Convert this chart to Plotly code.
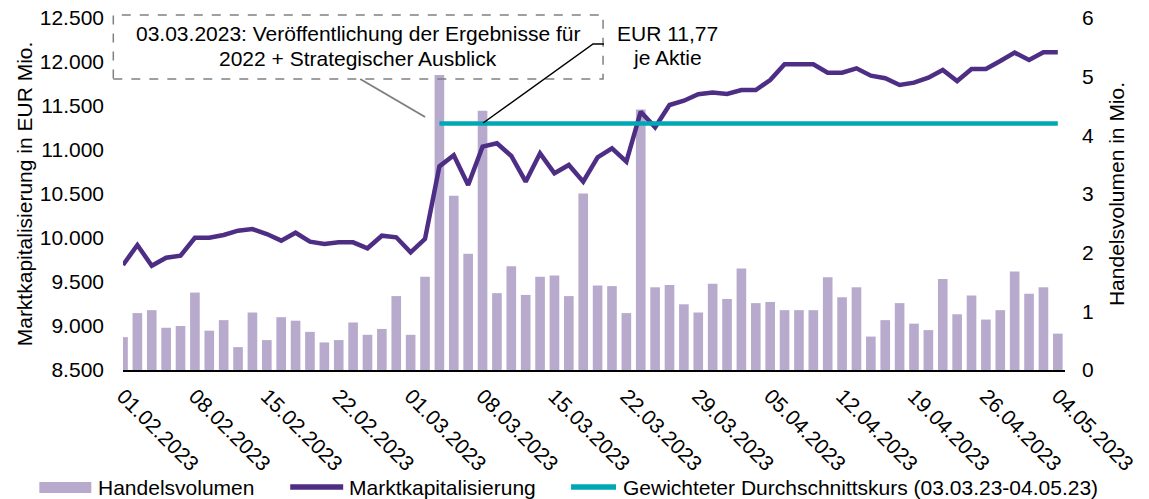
import pandas as pd
import plotly.graph_objects as go

# ---------------- data ----------------
dates = [d.strftime("%d.%m.%Y") for d in pd.bdate_range("2023-02-01", "2023-05-04")
         if d.strftime("%d.%m") != "01.05"]

handelsvolumen = [0.56, 0.97, 1.02, 0.72, 0.75, 1.32, 0.67, 0.85, 0.39, 0.98,
                  0.51, 0.90, 0.84, 0.65, 0.47, 0.51, 0.81, 0.60, 0.70, 1.26,
                  0.60, 1.59, 5.03, 2.97, 1.98, 4.42, 1.31, 1.77, 1.28, 1.59,
                  1.61, 1.26, 3.01, 1.44, 1.43, 0.97, 4.44, 1.41, 1.45, 1.12,
                  0.98, 1.47, 1.21, 1.73, 1.14, 1.16, 1.02, 1.02, 1.02, 1.58,
                  1.24, 1.41, 0.57, 0.85, 1.14, 0.79, 0.68, 1.55, 0.95, 1.27,
                  0.86, 1.02, 1.68, 1.30, 1.41, 0.62]

marktkapitalisierung = [9693, 9920, 9685, 9776, 9799, 10003, 10003, 10034, 10083, 10102,
                        10045, 9970, 10060, 9958, 9932, 9951, 9951, 9883, 10026, 10008,
                        9837, 9989, 10814, 10940, 10602, 11038, 11076, 10932, 10640, 10962,
                        10735, 10830, 10640, 10917, 11019, 10867, 11435, 11258, 11511, 11560,
                        11633, 11652, 11636, 11682, 11682, 11795, 11974, 11974, 11974, 11879,
                        11879, 11928, 11845, 11815, 11739, 11765, 11822, 11909, 11784, 11920,
                        11920, 12011, 12106, 12023, 12110, 12110]

avg_start = "03.03.2023"
avg_value = 11300  # Marktkapitalisierung bei EUR 11,77 je Aktie

tick_labels = ["01.02.2023", "08.02.2023", "15.02.2023", "22.02.2023", "01.03.2023",
               "08.03.2023", "15.03.2023", "22.03.2023", "29.03.2023", "05.04.2023",
               "12.04.2023", "19.04.2023", "26.04.2023", "04.05.2023"]

avg_dates = dates[dates.index(avg_start):]
avg_values = [avg_value] * len(avg_dates)

# ---------------- style ----------------
FONT = "Liberation Sans, Arial, sans-serif"
C_BAR = "#B8AACD"
C_LINE = "#4E2E84"
C_AVG = "#00A8B5"
W, H = 1149, 499
# plot area in screen pixels
L, R, T, B = 122.7, 1065.2, 18, 370


def px(x):
    return (x - L) / (R - L)


def py(y):
    return (B - y) / (B - T)


fig = go.Figure()
fig.add_trace(go.Bar(x=dates, y=handelsvolumen, name="Handelsvolumen",
                     marker=dict(color=C_BAR, line=dict(width=0)), yaxis="y",
                     showlegend=False))
fig.add_trace(go.Scatter(x=dates, y=marktkapitalisierung, name="Marktkapitalisierung",
                         mode="lines", line=dict(color=C_LINE, width=4.5), yaxis="y2",
                         showlegend=False))
fig.add_trace(go.Scatter(x=avg_dates, y=avg_values,
                         name="Gewichteter Durchschnittskurs (03.03.23-04.05.23)",
                         mode="lines", line=dict(color=C_AVG, width=4.5), yaxis="y2",
                         showlegend=False))

shapes = []
annotations = []

# dashed callout box
shapes.append(dict(type="rect", xref="paper", yref="paper",
                   x0=px(113), x1=px(603), y0=py(79), y1=py(15),
                   line=dict(color="#808080", width=1.5, dash="dash"),
                   fillcolor="rgba(0,0,0,0)", layer="above"))
annotations.append(dict(xref="paper", yref="paper", x=px(358), y=py(34),
                        text="03.03.2023: Veröffentlichung der Ergebnisse für",
                        showarrow=False, xanchor="center", yanchor="middle",
                        font=dict(size=21, color="black", family=FONT)))
annotations.append(dict(xref="paper", yref="paper", x=px(358), y=py(58),
                        text="2022 + Strategischer Ausblick",
                        showarrow=False, xanchor="center", yanchor="middle",
                        font=dict(size=21, color="black", family=FONT)))
# grey connector
shapes.append(dict(type="line", xref="paper", yref="paper",
                   x0=px(360), y0=py(79), x1=px(425), y1=py(117),
                   line=dict(color="#808080", width=2), layer="above"))

# EUR 11,77 label
annotations.append(dict(xref="paper", yref="paper", x=px(667), y=py(34),
                        text="EUR 11,77", showarrow=False, xanchor="center",
                        yanchor="middle", font=dict(size=21, color="black", family=FONT)))
annotations.append(dict(xref="paper", yref="paper", x=px(667), y=py(57),
                        text="je Aktie", showarrow=False, xanchor="center",
                        yanchor="middle", font=dict(size=21, color="black", family=FONT)))
shapes.append(dict(type="path", xref="paper", yref="paper",
                   path=f"M {px(604)} {py(44)} L {px(593)} {py(44)} L {px(483)} {py(123)}",
                   line=dict(color="black", width=1.5), layer="above"))

# custom legend
ly = 487
shapes.append(dict(type="rect", xref="paper", yref="paper",
                   x0=px(39), x1=px(91), y0=py(493), y1=py(482),
                   fillcolor=C_BAR, line=dict(width=0)))
shapes.append(dict(type="line", xref="paper", yref="paper",
                   x0=px(290), x1=px(343), y0=py(ly), y1=py(ly),
                   line=dict(color=C_LINE, width=5.5)))
shapes.append(dict(type="line", xref="paper", yref="paper",
                   x0=px(571), x1=px(616), y0=py(ly), y1=py(ly),
                   line=dict(color=C_AVG, width=5.5)))
for xx, txt in [(96, "Handelsvolumen"), (347, "Marktkapitalisierung"),
                (621, "Gewichteter Durchschnittskurs (03.03.23-04.05.23)")]:
    annotations.append(dict(xref="paper", yref="paper", x=px(xx), y=py(ly),
                            text=txt, showarrow=False, xanchor="left", yanchor="middle",
                            font=dict(size=21, color="black", family=FONT)))

fig.update_layout(
    width=W, height=H,
    margin=dict(l=L, r=W - R, t=T, b=H - B, autoexpand=False),
    paper_bgcolor="white", plot_bgcolor="white",
    font=dict(family=FONT, size=21, color="black"),
    separators=",.",
    bargap=0.33,
    showlegend=False,
    xaxis=dict(type="category", categoryorder="array", categoryarray=dates,
               range=[0, 65.5], tickmode="array", tickvals=tick_labels,
               ticktext=tick_labels, tickangle=45, showgrid=False, ticks="",
               showline=True, linecolor="black", linewidth=1.5,
               tickfont=dict(size=21), ticklabelstandoff=4),
    yaxis=dict(side="right", range=[0, 6], dtick=1, showgrid=False, zeroline=False,
               ticks="", showline=False, tickfont=dict(size=21),
               ticklabelstandoff=16, ticklabeloverflow="allow",
               title=dict(text="Handelsvolumen in Mio.", font=dict(size=21), standoff=16)),
    yaxis2=dict(side="left", overlaying="y", range=[8500, 12500], dtick=500,
                tickformat=",d", showgrid=False, zeroline=False, ticks="",
                showline=False, tickfont=dict(size=21), ticklabelstandoff=18,
                ticklabeloverflow="allow",
                title=dict(text="Marktkapitalisierung in EUR Mio.", font=dict(size=21),
                           standoff=1)),
    shapes=shapes,
    annotations=annotations,
)

fig.write_html("out.html",
               config={"displayModeBar": False},
               post_script="document.body.style.margin='0';document.body.style.overflow='hidden';")
